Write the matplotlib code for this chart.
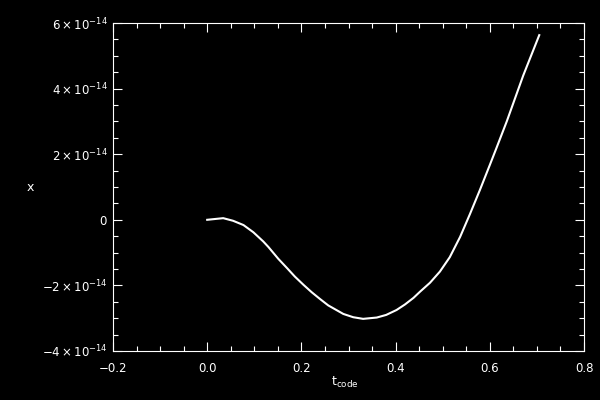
import matplotlib
matplotlib.use("Agg")
import matplotlib.pyplot as plt
from matplotlib.ticker import MultipleLocator, FixedLocator

t_code = [0.0, 0.034, 0.055, 0.077, 0.098, 0.119, 0.13, 0.151, 0.17, 0.186, 0.205,
          0.222, 0.24, 0.257, 0.289, 0.31, 0.331, 0.36, 0.38, 0.402, 0.42, 0.438,
          0.452, 0.473, 0.494, 0.515, 0.537, 0.558, 0.579, 0.600, 0.615, 0.636,
          0.671, 0.705]
x_vals = [0.0, 0.05, -0.03, -0.16, -0.38, -0.66, -0.83, -1.19, -1.48, -1.73, -1.99,
          -2.21, -2.42, -2.61, -2.87, -2.97, -3.02, -2.98, -2.90, -2.75, -2.58, -2.38,
          -2.19, -1.92, -1.58, -1.14, -0.52, 0.18, 0.91, 1.67, 2.22, 3.00,
          4.40, 5.63]  # units of 1e-14
x_scale = 1e-14

xticks = [-0.2, 0.0, 0.2, 0.4, 0.6, 0.8]
xticklabels = ["\u22120.2", "0.0", "0.2", "0.4", "0.6", "0.8"]
yticks = [-4, -2, 0, 2, 4, 6]
yticklabels = [r"$-4\times10^{-14}$", r"$-2\times10^{-14}$", r"$0$",
               r"$2\times10^{-14}$", r"$4\times10^{-14}$", r"$6\times10^{-14}$"]

plt.rcParams['mathtext.fontset'] = 'dejavusans'
fig = plt.figure(figsize=(6, 4), dpi=100, facecolor='black')
ax = fig.add_axes([113/600, 1-351/400, 471/600, 328/400], facecolor='black')

ax.plot(t_code, [v * x_scale for v in x_vals], color='white', lw=1.5)

ax.set_xlim(-0.2, 0.8)
ax.set_ylim(-4e-14, 6e-14)
ax.xaxis.set_major_locator(FixedLocator(xticks))
ax.set_xticklabels(xticklabels)
ax.xaxis.set_minor_locator(MultipleLocator(0.05))
ax.yaxis.set_major_locator(FixedLocator([v * x_scale for v in yticks]))
ax.set_yticklabels(yticklabels)
ax.yaxis.set_minor_locator(MultipleLocator(0.5e-14))

for s in ax.spines.values():
    s.set_color('white')
    s.set_linewidth(0.8)

ax.tick_params(which='both', direction='in', top=True, right=True, colors='white',
               width=0.8, labelsize=8.5)
ax.tick_params(which='major', length=6.5)
ax.tick_params(which='minor', length=3.5)
ax.tick_params(axis='x', pad=8)
ax.tick_params(axis='y', pad=4)

ax.set_xlabel(r"$\mathregular{t_{code}}$", color='white', fontsize=9, va='center')
ax.xaxis.set_label_coords(0.493, -0.095)
ax.set_ylabel("x", color='white', fontsize=9, rotation=0, va='center', ha='center')
ax.yaxis.set_label_coords(-0.176, 0.497)

fig.savefig("out.png", dpi=100, facecolor='black')
